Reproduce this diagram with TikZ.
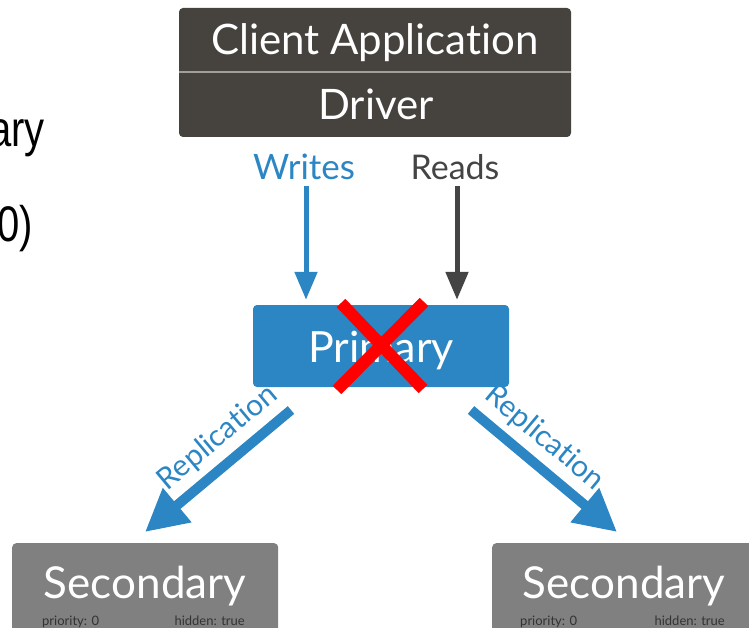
\documentclass[tikz,border=0pt]{standalone}
\usepackage{fontspec}
\setmainfont[Ligatures=NoCommon]{Lato}
\newfontfamily\arialish{Liberation Sans}
\usetikzlibrary{arrows.meta}

\definecolor{clientgray}{HTML}{46433F}
\definecolor{dividergray}{HTML}{A09E9B}
\definecolor{mongoblue}{HTML}{2C86C3}
\definecolor{readgray}{HTML}{444444}
\definecolor{secgray}{HTML}{808080}
\definecolor{xred}{HTML}{FF0000}

\newcommand{\fs}[1]{\fontsize{#1}{#1}\selectfont}

\tikzset{
  box/.style={draw=none, rounded corners=4pt, inner sep=0pt},
  whitetext/.style={text=white, inner sep=0pt},
  fragtext/.style={anchor=base east, inner sep=0pt, xscale=0.8, font=\arialish\fs{50}},
  flowarrow/.style={line width=5pt, -{Triangle[width=22pt,length=28pt]}},
  reparrow/.style={line width=10pt, mongoblue, -{Triangle[width=42pt,length=42pt]}},
  replabel/.style={text=mongoblue, inner sep=0pt, font=\fs{30}},
  smalllabel/.style={text=black!80, inner sep=0pt, font=\fs{13}},
  crossbar/.style={line width=12pt, xred},
}

\begin{document}
\begin{tikzpicture}[x=1pt, y=-1pt]
  \useasboundingbox (0,0) rectangle (749,628);

  % cropped text at the left edge
  \node[fragtext] (frag1) at (45,147) {ary};
  \node[fragtext] (frag2) at (33,242) {0)};

  % client application / driver block
  \fill[clientgray, rounded corners=4pt] (179,8) rectangle (571,137);
  \node[box, minimum width=392pt, minimum height=129pt] (client) at (375,72.5) {};
  \draw[dividergray, line width=1.5pt] (179,72) -- (571,72);
  \node[whitetext, anchor=base, font=\fs{42}] (clienttext) at (375,55) {Client Application};
  \node[whitetext, anchor=base, font=\fs{42}] (drivertext) at (376,120) {Driver};

  % writes / reads
  \node[anchor=base, inner sep=0pt, text=mongoblue, font=\fs{35}] (writes) at (304,180) {Writes};
  \node[anchor=base, inner sep=0pt, text=readgray, font=\fs{34}] (reads) at (455,180) {Reads};

  % primary
  \node[box, fill=mongoblue, minimum width=256pt, minimum height=82pt] (primary) at (381,346) {};
  \node[whitetext, anchor=base, font=\fs{43}] (primarytext) at (381,362) {Primary};

  \coordinate (wstart) at (306,186);
  \coordinate (rstart) at (457,186);
  \draw[flowarrow, mongoblue, shorten >=5pt] (wstart) -- (wstart |- primary.north);
  \draw[flowarrow, readgray, shorten >=5pt] (rstart) -- (rstart |- primary.north);

  % failure cross
  \coordinate (xa) at (341,303);
  \coordinate (xb) at (423,389);
  \coordinate (xc) at (424,302);
  \coordinate (xd) at (337,390);
  \draw[crossbar] (xa) -- (xb);
  \draw[crossbar] (xc) -- (xd);

  % secondaries
  \node[box, fill=secgray, minimum width=266pt, minimum height=100pt, anchor=north west] (secleft) at (12,543) {};
  \node[box, fill=secgray, minimum width=266pt, minimum height=100pt, anchor=north west] (secright) at (492,543) {};
  \node[whitetext, anchor=base, font=\fs{44}] (seclefttext) at (145,598) {Secondary};
  \node[whitetext, anchor=base, font=\fs{44}] (secrighttext) at (624,598) {Secondary};
  \node[smalllabel, anchor=base west] (prioleft) at (42,625) {priority: 0};
  \node[smalllabel, anchor=base east] (hidleft) at (245,625) {hidden: true};
  \node[smalllabel, anchor=base west] (prioright) at (520,625) {priority: 0};
  \node[smalllabel, anchor=base east] (hidright) at (725,625) {hidden: true};

  % replication arrows
  \coordinate (lstart) at (291,410);
  \coordinate (ltip) at (145,532);
  \coordinate (rrstart) at (471,410);
  \coordinate (rtip) at (617,532);
  \draw[reparrow] (lstart) -- node[pos=0.39, sloped, above=7pt, replabel] {Replication} (ltip);
  \draw[reparrow] (rrstart) -- node[pos=0.39, sloped, above=7pt, replabel] {Replication} (rtip);
\end{tikzpicture}
\end{document}
